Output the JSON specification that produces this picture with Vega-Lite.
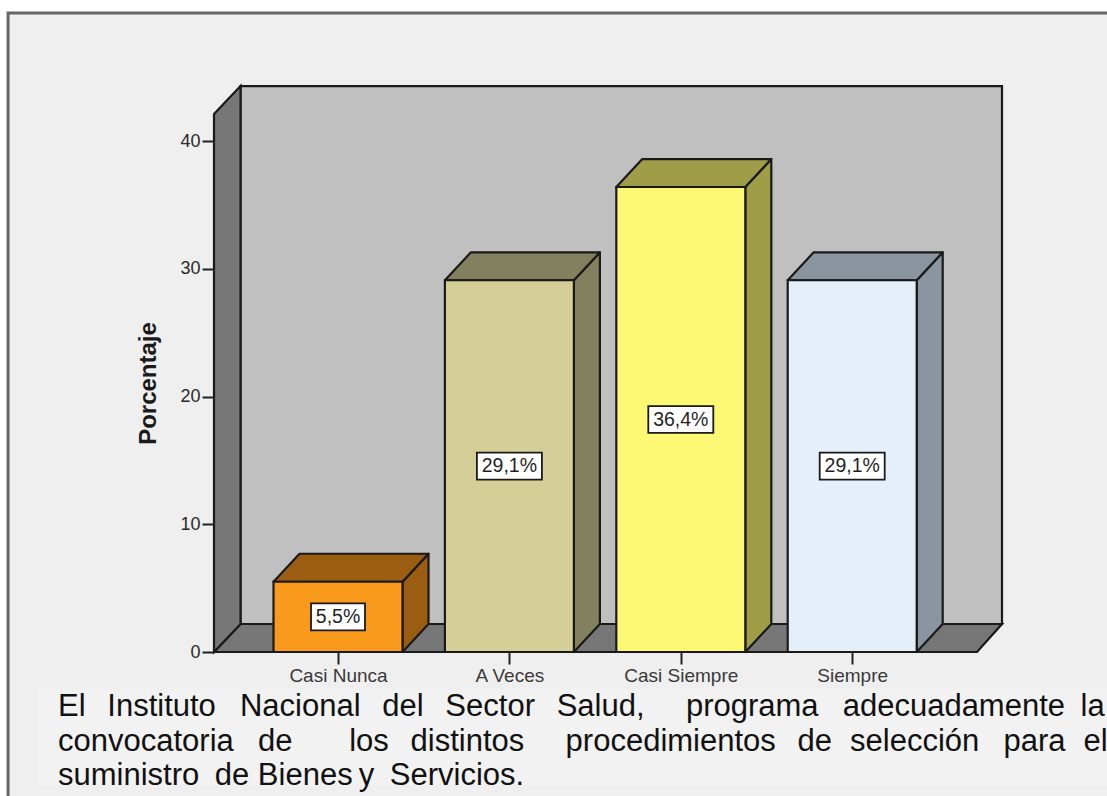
{
  "$schema": "https://vega.github.io/schema/vega-lite/v6.json",
  "width": 893,
  "height": 652,
  "autosize": "none",
  "padding": {"left": 214, "top": 0, "right": 0, "bottom": 144},
  "background": "#ffffff",
  "view": {"stroke": null},
  "config": {"font": "Liberation Sans"},
  "data": {"values": [
    {"categoria": "Casi Nunca", "posicion": 1, "porcentaje": 5.5},
    {"categoria": "A Veces", "posicion": 2, "porcentaje": 29.1},
    {"categoria": "Casi Siempre", "posicion": 3, "porcentaje": 36.4},
    {"categoria": "Siempre", "posicion": 4, "porcentaje": 29.1}
  ]},
  "encoding": {
    "x": {
      "field": "xp", "type": "quantitative",
      "scale": {"domain": [0.2765, 5.4866], "nice": false, "zero": false},
      "axis": {
        "title": null, "values": [1, 2, 3, 4], "grid": false, "domain": false, "zindex": 1,
        "labelExpr": "['','Casi Nunca','A Veces','Casi Siempre','Siempre'][datum.value]",
        "tickColor": "#222222", "tickWidth": 2, "tickSize": 12, "labelPadding": 2,
        "labelFont": "Liberation Sans", "labelFontSize": 19, "labelColor": "#3a3a3a", "labelFlush": false, "labelBound": false, "labelOverlap": false
      }
    },
    "y": {
      "field": "yp", "type": "quantitative", "stack": false,
      "scale": {"domain": [0, 51.04], "nice": false, "zero": false},
      "axis": {
        "title": "Porcentaje", "values": [0, 10, 20, 30, 40], "grid": false, "domain": false, "zindex": 1,
        "tickColor": "#222222", "tickWidth": 2, "tickSize": 12, "labelPadding": 2,
        "labelFont": "Liberation Sans", "labelFontSize": 18, "labelColor": "#2a2a2a",
        "titleFont": "Liberation Sans", "titleFontSize": 24, "titleFontWeight": "bold", "titleColor": "#1a1a1a",
        "titleX": -54, "titleY": 383
      }
    }
  },
  "layer": [
    {
      "description": "Panel behind the chart with its frame",
      "data": {"values": [{"zona": "panel"}]},
      "transform": [
        {"calculate": "-0.925", "as": "xp"}, {"calculate": "5.6", "as": "xf"},
        {"calculate": "50.02", "as": "yp"}, {"calculate": "-13", "as": "yf"}
      ],
      "mark": {"type": "rect", "fill": "#efefef", "stroke": "#666666", "strokeWidth": 3},
      "encoding": {"x2": {"field": "xf"}, "y2": {"field": "yf"}}
    },
    {
      "description": "Caption band",
      "data": {"values": [{"zona": "leyenda"}]},
      "transform": [
        {"calculate": "-0.75", "as": "xp"}, {"calculate": "5.6", "as": "xf"},
        {"calculate": "-2.96", "as": "yp"}, {"calculate": "-10.4", "as": "yf"}
      ],
      "mark": {"type": "rect", "fill": "#f2f2f2"},
      "encoding": {"x2": {"field": "xf"}, "y2": {"field": "yf"}}
    },
    {
      "description": "Back wall",
      "data": {"values": [{"zona": "fondo"}]},
      "transform": [
        {"calculate": "0.4312", "as": "xp"}, {"calculate": "4.874", "as": "xf"},
        {"calculate": "44.3", "as": "yp"}, {"calculate": "2.19", "as": "yf"}
      ],
      "mark": {"type": "rect", "fill": "#c0c0c0", "stroke": "#1a1a1a", "strokeWidth": 2.2},
      "encoding": {"x2": {"field": "xf"}, "y2": {"field": "yf"}}
    },
    {
      "description": "Floor of the box",
      "data": {"values": [{"esquina": 0}, {"esquina": 1}, {"esquina": 2}, {"esquina": 3}]},
      "transform": [
        {"calculate": "[0.2765, 0.4312, 4.7282, 4.874][datum.esquina]", "as": "xp"},
        {"calculate": "[0, 2.19, 2.19, 2.19][datum.esquina]", "as": "yp"},
        {"calculate": "[0, 0, 0, 2.19][datum.esquina]", "as": "yf"}
      ],
      "mark": {"type": "area", "orient": "vertical", "fill": "#777777", "stroke": "#1a1a1a", "strokeWidth": 2.2},
      "encoding": {"y2": {"field": "yf"}}
    },
    {
      "description": "Left wall of the box",
      "data": {"values": [{"esquina": 0}, {"esquina": 1}]},
      "transform": [
        {"calculate": "[0.2765, 0.4312][datum.esquina]", "as": "xp"},
        {"calculate": "[42.11, 44.3][datum.esquina]", "as": "yp"},
        {"calculate": "[0, 2.19][datum.esquina]", "as": "yf"}
      ],
      "mark": {"type": "area", "orient": "vertical", "fill": "#777777", "stroke": "#1a1a1a", "strokeWidth": 2.2},
      "encoding": {"y2": {"field": "yf"}}
    },
    {
      "description": "Right-hand side of each bar",
      "transform": [
        {"calculate": "[0, 1]", "as": "esquina"},
        {"flatten": ["esquina"]},
        {"calculate": "datum.posicion + 0.3763 + datum.esquina * 0.1517", "as": "xp"},
        {"calculate": "datum.porcentaje + datum.esquina * 2.19", "as": "yp"},
        {"calculate": "datum.esquina * 2.19", "as": "yf"}
      ],
      "mark": {"type": "area", "orient": "vertical", "stroke": "#1a1a1a", "strokeWidth": 2.2, "strokeJoin": "round"},
      "encoding": {
        "y2": {"field": "yf"},
        "fill": {
          "field": "categoria", "type": "nominal", "legend": null,
          "scale": {"domain": ["Casi Nunca", "A Veces", "Casi Siempre", "Siempre"], "range": ["#9a5d12", "#82805e", "#a09d48", "#8a95a0"]}
        }
      }
    },
    {
      "description": "Top of each bar",
      "transform": [
        {"calculate": "[0, 1, 2, 3]", "as": "esquina"},
        {"flatten": ["esquina"]},
        {"calculate": "datum.posicion + [-0.3763, -0.2246, 0.3763, 0.528][datum.esquina]", "as": "xp"},
        {"calculate": "datum.porcentaje + [0, 2.19, 2.19, 2.19][datum.esquina]", "as": "yp"},
        {"calculate": "datum.porcentaje + [0, 0, 0, 2.19][datum.esquina]", "as": "yf"}
      ],
      "mark": {"type": "area", "orient": "vertical", "stroke": "#1a1a1a", "strokeWidth": 2.2, "strokeJoin": "round"},
      "encoding": {
        "y2": {"field": "yf"},
        "fill": {
          "field": "categoria", "type": "nominal", "legend": null,
          "scale": {"domain": ["Casi Nunca", "A Veces", "Casi Siempre", "Siempre"], "range": ["#9a5d12", "#82805e", "#a09d48", "#8a95a0"]}
        }
      }
    },
    {
      "description": "Front of each bar",
      "transform": [
        {"calculate": "datum.posicion - 0.3763", "as": "xp"},
        {"calculate": "datum.posicion + 0.3763", "as": "xf"},
        {"calculate": "datum.porcentaje", "as": "yp"},
        {"calculate": "0", "as": "yf"}
      ],
      "mark": {"type": "rect", "stroke": "#1a1a1a", "strokeWidth": 2.2},
      "encoding": {
        "x2": {"field": "xf"},
        "y2": {"field": "yf"},
        "fill": {
          "field": "categoria", "type": "nominal", "legend": null,
          "scale": {"domain": ["Casi Nunca", "A Veces", "Casi Siempre", "Siempre"], "range": ["#f99a1c", "#d5cf97", "#fdf874", "#e4effa"]}
        }
      }
    },
    {
      "description": "White box behind each value label",
      "transform": [
        {"calculate": "datum.posicion - (datum.porcentaje < 10 ? 0.1575 : 0.1896)", "as": "xp"},
        {"calculate": "datum.posicion + (datum.porcentaje < 10 ? 0.1575 : 0.1896)", "as": "xf"},
        {"calculate": "datum.porcentaje / 2 + 1.05", "as": "yp"},
        {"calculate": "datum.porcentaje / 2 - 1.05", "as": "yf"}
      ],
      "mark": {"type": "rect", "fill": "#ffffff", "stroke": "#1a1a1a", "strokeWidth": 1.8},
      "encoding": {"x2": {"field": "xf"}, "y2": {"field": "yf"}}
    },
    {
      "description": "Value labels",
      "transform": [
        {"calculate": "datum.posicion", "as": "xp"},
        {"calculate": "datum.porcentaje / 2", "as": "yp"},
        {"calculate": "replace(format(datum.porcentaje, '.1f'), '.', ',') + '%'", "as": "etiqueta"}
      ],
      "mark": {"type": "text", "font": "Liberation Sans", "fontSize": 19.5, "color": "#1f1f1f", "align": "center", "baseline": "middle"},
      "encoding": {"text": {"field": "etiqueta"}}
    },
    {
      "description": "Caption under the chart, with wide spaces for its justified lines",
      "data": {"values": [
        {"linea": 0, "texto": "El\u2002\u2009Instituto\u2002\u00a0Nacional\u2002\u2009del\u2002\u2009Sector\u2002\u2009Salud,\u2003\u2004programa\u2002\u00a0adecuadamente\u2002la"},
        {"linea": 1, "texto": "convocatoria\u2002\u00a0de\u2003\u2002\u2004los\u2002\u2009distintos\u2003\u2004procedimientos\u2002\u2009de\u2002\u200aselección\u2002\u00a0para\u2002\u200ael"},
        {"linea": 2, "texto": "suministro\u2002de\u00a0Bienes\u2009y\u2002Servicios."}
      ]},
      "transform": [
        {"calculate": "-0.6336", "as": "xp"},
        {"calculate": "[-5.01, -7.75, -10.41][datum.linea]", "as": "yp"}
      ],
      "mark": {"type": "text", "font": "Liberation Sans", "fontSize": 31, "color": "#111111", "align": "left", "baseline": "alphabetic"},
      "encoding": {"text": {"field": "texto"}}
    }
  ],
  "resolve": {"scale": {"fill": "independent"}}
}
